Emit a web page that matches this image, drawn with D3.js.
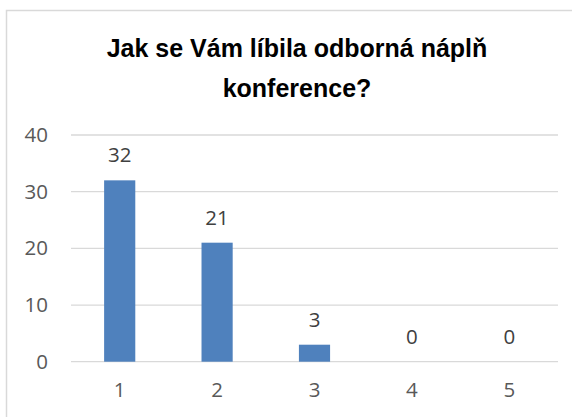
<!DOCTYPE html>
<html>
<head>
<meta charset="utf-8">
<script src="https://cdn.jsdelivr.net/npm/d3@7"></script>
<style>
  html, body { margin: 0; padding: 0; background: #fff; }
  svg { display: block; }
</style>
</head>
<body>
<svg id="chart" width="572" height="417"></svg>
<script>
const titleLines = ["Jak se Vám líbila odborná náplň", "konference?"];
const categories = ["1", "2", "3", "4", "5"];
const values = [32, 21, 3, 0, 0];
const yTicks = [0, 10, 20, 30, 40];

const svg = d3.select("#chart");
const W = 572, H = 417;
const plot = { left: 71, right: 558, top: 135, bottom: 361.7 };
const numFont = "'Open Sans', 'Liberation Sans', sans-serif";
const numSize = 20.5;

// chart border (extends past the right/bottom edge of the picture)
svg.append("rect")
  .attr("x", 6.5).attr("y", 10.5)
  .attr("width", W + 20).attr("height", H + 20)
  .attr("fill", "#fff").attr("stroke", "#d9d9d9").attr("stroke-width", 1.5);

// title
svg.append("text")
  .attr("x", 297).attr("text-anchor", "middle")
  .attr("font-family", "'Liberation Sans Narrow', 'Liberation Sans', Arial, sans-serif")
  .attr("font-weight", "bold").attr("font-size", 25).attr("fill", "#000")
  .selectAll("tspan").data(titleLines).join("tspan")
  .attr("x", 297).attr("y", (d, i) => 57 + i * 40).text(d => d);

const x = d3.scaleBand().domain(categories)
  .range([plot.left, plot.right]).paddingInner(0.68).paddingOuter(0.34);
const y = d3.scaleLinear().domain([0, 40]).range([plot.bottom, plot.top]);

// gridlines
svg.append("g").selectAll("line").data(yTicks).join("line")
  .attr("x1", plot.left).attr("x2", plot.right)
  .attr("y1", d => y(d)).attr("y2", d => y(d))
  .attr("stroke", "#d9d9d9").attr("stroke-width", 1.3);

// y axis labels
const yAxis = svg.append("g").attr("transform", `translate(${plot.left},0)`)
  .call(d3.axisLeft(y).tickValues(yTicks).tickSize(0).tickPadding(23));
yAxis.select(".domain").remove();
yAxis.selectAll("text").attr("font-family", numFont).attr("font-size", numSize).attr("fill", "#595959");

// x axis labels
const xAxis = svg.append("g").attr("transform", `translate(0,${plot.bottom})`)
  .call(d3.axisBottom(x).tickSize(0).tickPadding(21));
xAxis.select(".domain").remove();
xAxis.selectAll("text").attr("font-family", numFont).attr("font-size", numSize).attr("fill", "#595959");

// bars
svg.append("g").selectAll("rect").data(values).join("rect")
  .attr("x", (d, i) => x(categories[i]))
  .attr("width", x.bandwidth())
  .attr("y", d => y(d))
  .attr("height", d => y(0) - y(d))
  .attr("fill", "#4f81bd");

// data labels
svg.append("g").selectAll("text").data(values).join("text")
  .attr("x", (d, i) => x(categories[i]) + x.bandwidth() / 2)
  .attr("y", d => y(d) - 18)
  .attr("text-anchor", "middle")
  .attr("font-family", numFont).attr("font-size", numSize).attr("fill", "#404040")
  .text(d => d);
</script>
</body>
</html>
